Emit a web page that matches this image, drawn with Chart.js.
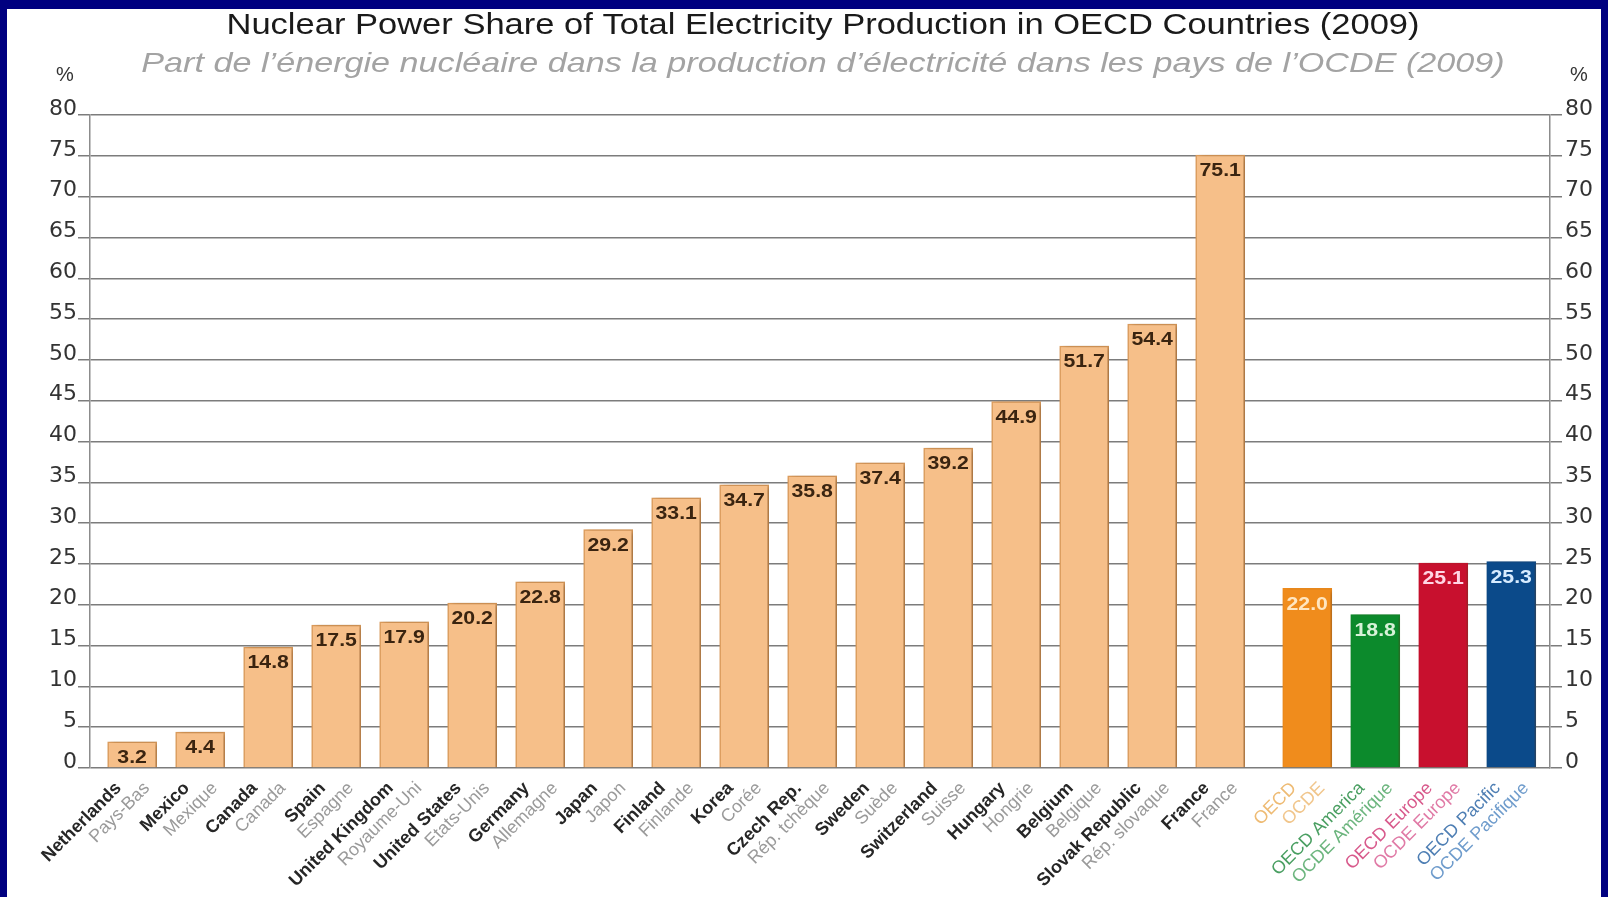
<!DOCTYPE html>
<html>
<head>
<meta charset="utf-8">
<script src="https://cdn.jsdelivr.net/npm/chart.js@4.4.1/dist/chart.umd.min.js"></script>
<style>
  html, body { margin: 0; padding: 0; background: #000080; }
  #chart { display: block; }
</style>
</head>
<body>
<canvas id="chart" width="1608" height="897"></canvas>
<script>
// values
const countryNamesEn = ["Netherlands", "Mexico", "Canada", "Spain", "United Kingdom", "United States",
  "Germany", "Japan", "Finland", "Korea", "Czech Rep.", "Sweden", "Switzerland", "Hungary",
  "Belgium", "Slovak Republic", "France"];
const countryNamesFr = ["Pays-Bas", "Mexique", "Canada", "Espagne", "Royaume-Uni", "Etats-Unis",
  "Allemagne", "Japon", "Finlande", "Corée", "Rép. tchèque", "Suède", "Suisse", "Hongrie",
  "Belgique", "Rép. slovaque", "France"];
const countryShares = [3.2, 4.4, 14.8, 17.5, 17.9, 20.2, 22.8, 29.2, 33.1, 34.7, 35.8, 37.4, 39.2,
  44.9, 51.7, 54.4, 75.1];

const regionNamesEn = ["OECD", "OECD America", "OECD Europe", "OECD Pacific"];
const regionNamesFr = ["OCDE", "OCDE Amérique", "OCDE Europe", "OCDE Pacifique"];
const regionShares = [22.0, 18.8, 25.1, 25.3];

const titleEn = "Nuclear Power Share of Total Electricity Production in OECD Countries (2009)";
const titleFr = "Part de l\u2019énergie nucléaire dans la production d\u2019électricité dans les pays de l\u2019OCDE (2009)";
const unitLabel = "%";

// styling
const countryFill = "#f6bf89";
const countryBorder = "#dc9c5c";
const regionFills = ["#f08c1c", "#0c8a2c", "#c8102e", "#0b4a8a"];
const regionLabelColors = ["#eebb74", "#4a9f62", "#d85a8c", "#4f7fb4"];
const regionFrColors = ["#f1c68c", "#6cb57e", "#e07aa6", "#6f9ccc"];
const regionValueColors = ["#ffe6c0", "#d8f2d8", "#ffd6e4", "#d8ecff"];
const GROUP_GAP = 0.28;
const FONT = "'Liberation Sans', Arial, sans-serif";

const points = countryShares.map((v, i) => ({ x: i, y: v }))
  .concat(regionShares.map((v, i) => ({ x: countryShares.length + GROUP_GAP + i, y: v })));
const namesEn = countryNamesEn.concat(regionNamesEn);
const namesFr = countryNamesFr.concat(regionNamesFr);
const fills = countryShares.map(() => countryFill).concat(regionFills);
const borders = countryShares.map(() => countryBorder).concat(regionFills);

const framePlugin = {
  id: "frame",
  beforeDraw(chart) {
    const ctx = chart.ctx;
    ctx.save();
    ctx.fillStyle = "#000080";
    ctx.fillRect(0, 0, chart.width, chart.height);
    ctx.fillStyle = "#ffffff";
    ctx.fillRect(7, 9, chart.width - 14, chart.height - 9);
    ctx.restore();
  },
  afterDraw(chart) {
    const ctx = chart.ctx;
    ctx.save();
    ctx.textAlign = "center";
    ctx.textBaseline = "middle";

    ctx.save();
    ctx.translate(823, 26);
    ctx.scale(1.19, 1);
    ctx.fillStyle = "#1a1a1a";
    ctx.font = "29px " + FONT;
    ctx.fillText(titleEn, 0, 0);
    ctx.restore();

    ctx.save();
    ctx.translate(823, 64);
    ctx.scale(1.22, 1);
    ctx.fillStyle = "#a3a3a3";
    ctx.font = "italic 28px " + FONT;
    ctx.fillText(titleFr, 0, 0);
    ctx.restore();

    ctx.fillStyle = "#333333";
    ctx.font = "20px " + FONT;
    ctx.fillText(unitLabel, 65, 75);
    ctx.fillText(unitLabel, 1579, 75);
    ctx.restore();
  }
};

const shadowPlugin = {
  id: "barShadow",
  beforeDatasetsDraw(chart) {
    const ctx = chart.ctx;
    ctx.save();
    ctx.shadowColor = "rgba(90, 60, 30, 0.45)";
    ctx.shadowBlur = 5;
    ctx.shadowOffsetX = 3;
    ctx.shadowOffsetY = 1;
  },
  afterDatasetsDraw(chart) {
    chart.ctx.restore();
  }
};

const labelPlugin = {
  id: "barLabels",
  afterDatasetsDraw(chart) {
    const ctx = chart.ctx;
    const meta = chart.getDatasetMeta(0);
    const bottom = chart.chartArea.bottom;
    ctx.save();
    meta.data.forEach((bar, i) => {
      const isRegion = i >= countryShares.length;
      const r = i - countryShares.length;

      // value inside the top of the bar
      ctx.save();
      ctx.translate(bar.x, bar.y + 16);
      ctx.scale(1.12, 1);
      ctx.textAlign = "center";
      ctx.textBaseline = "middle";
      ctx.font = "bold 19px " + FONT;
      ctx.fillStyle = isRegion ? regionValueColors[r] : "#3a2410";
      ctx.fillText(points[i].y.toFixed(1), 0, 0);
      ctx.restore();

      // rotated two-line category label
      ctx.save();
      ctx.translate(bar.x - 10, bottom + 21);
      ctx.rotate(-Math.PI / 4);
      ctx.textAlign = "right";
      ctx.font = (isRegion ? "" : "bold ") + "18px " + FONT;
      ctx.fillStyle = isRegion ? regionLabelColors[r] : "#262626";
      ctx.fillText(namesEn[i], 0, 0);
      ctx.font = "18px " + FONT;
      ctx.fillStyle = isRegion ? regionFrColors[r] : "#9a9a9a";
      ctx.fillText(namesFr[i], 20, 20);
      ctx.restore();
    });
    ctx.restore();
  }
};

const axisRange = { min: 0, max: 80 };

const yTicks = (padding) => ({
  stepSize: 5,
  color: "#333333",
  font: { family: "'DejaVu Sans', sans-serif", size: 22 },
  padding: padding,
  labelOffset: -6,
});

new Chart(document.getElementById("chart"), {
  type: "bar",
  data: {
    datasets: [{
      data: points,
      backgroundColor: fills,
      borderColor: borders,
      borderWidth: 1.5,
      barThickness: 49,
    }],
  },
  options: {
    responsive: false,
    animation: false,
    layout: { padding: { top: 115, bottom: 129, left: 0, right: 0 } },
    plugins: {
      legend: { display: false },
      tooltip: { enabled: false },
    },
    scales: {
      x: {
        type: "linear",
        offset: false,
        min: -0.62,
        max: 20.85,
        display: false,
      },
      y: {
        position: "left",
        min: axisRange.min,
        max: axisRange.max,
        ticks: yTicks(1),
        grid: { color: "#7c7c7c", lineWidth: 1.5, tickLength: 12 },
        border: { color: "#8c8c8c", width: 1.5 },
        afterFit: (scale) => { scale.width = 90; },
      },
      y2: {
        position: "right",
        min: axisRange.min,
        max: axisRange.max,
        ticks: yTicks(3),
        grid: { drawOnChartArea: false, color: "#7c7c7c", lineWidth: 1.5, tickLength: 12 },
        border: { color: "#8c8c8c", width: 1.5 },
        afterFit: (scale) => { scale.width = 58; },
      },
    },
  },
  plugins: [framePlugin, shadowPlugin, labelPlugin],
});
</script>
</body>
</html>
